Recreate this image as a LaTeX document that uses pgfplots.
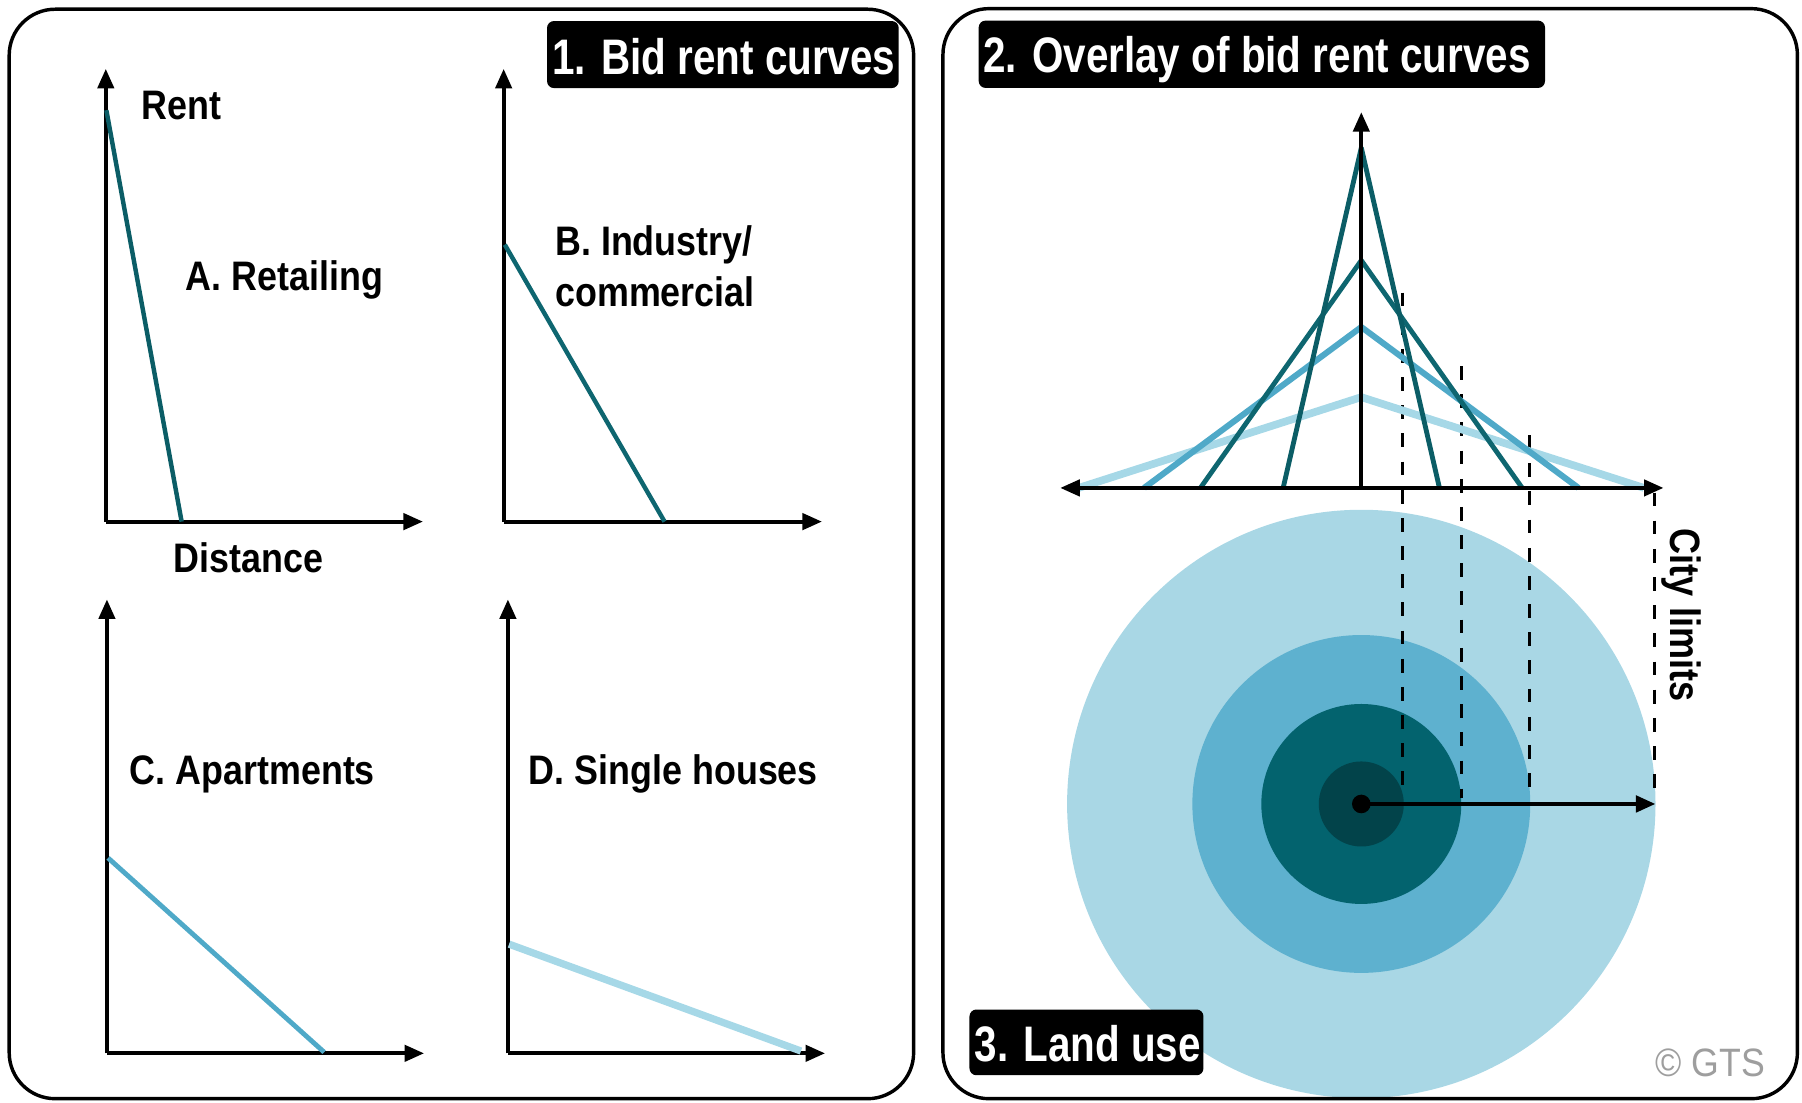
\documentclass[border=0pt]{standalone}
\usepackage{fontspec}
\setmainfont{Liberation Sans}
\newfontfamily\condfont[FakeStretch=0.87]{Liberation Sans}
\newfontfamily\cityfont[FakeStretch=0.85]{Liberation Sans}
\newfontfamily\titlefont[FakeStretch=0.81]{Liberation Sans}
\newfontfamily\gtsfont[FakeStretch=0.9]{Liberation Sans}
\usepackage{pgfplots}
\pgfplotsset{compat=1.18}
\usetikzlibrary{arrows.meta}
\definecolor{tealA}{HTML}{0B5D66}
\definecolor{tealB}{HTML}{0E6670}
\definecolor{blueC}{HTML}{4FA9C8}
\definecolor{blueD}{HTML}{A6D8E7}
\definecolor{ringOut}{HTML}{A9D7E5}
\definecolor{ringMid}{HTML}{5EB1CF}
\definecolor{ringIn}{HTML}{03636E}
\definecolor{ringCore}{HTML}{02434A}
\newcommand{\lab}{\condfont\bfseries\fontsize{10.2}{12}\selectfont}
\newcommand{\ttl}{\titlefont\bfseries\fontsize{12.35}{14}\selectfont\color{white}}
\pgfplotsset{
  panel/.style={anchor=south west, x=0.01cm, y=0.01cm, xmin=0, ymin=0,
    axis lines=left, xtick=\empty, ytick=\empty, clip=false,
    axis line style={line width=1pt, -{Triangle[length=0.17cm,width=0.14cm]}}},
}
\begin{document}
\begin{tikzpicture}[x=0.01cm,y=-0.01cm]
\useasboundingbox (0,0) rectangle (1568,959);

% ---------- Panel A ----------
\begin{axis}[panel, at={(0.92cm,-4.536cm)}, xmax=276, ymax=394]
\addplot[tealA, line width=1.1pt] coordinates {(0.5,358) (66,0)};
\end{axis}
% ---------- Panel B ----------
\begin{axis}[panel, at={(4.38cm,-4.536cm)}, xmax=277, ymax=394]
\addplot[tealB, line width=1.1pt] coordinates {(1,241) (140,0)};
\end{axis}
% ---------- Panel C ----------
\begin{axis}[panel, at={(0.93cm,-9.16cm)}, xmax=276, ymax=395]
\addplot[blueC, line width=1.2pt] coordinates {(1,170) (189,1)};
\end{axis}
% ---------- Panel D ----------
\begin{axis}[panel, at={(4.417cm,-9.16cm)}, xmax=276, ymax=395]
\addplot[blueD, line width=1.8pt] coordinates {(1,95) (255,2)};
\end{axis}

% labels left panel
\node[anchor=base west, inner sep=0] at (122.5,104) {\lab Rent};
\node[anchor=base west, inner sep=0] at (161,253) {\lab A. Retailing};
\node[anchor=base west, inner sep=0] at (150.6,498) {\lab Distance};
\node[anchor=base west, inner sep=0] at (482.5,222.5) {\lab B. Industry/};
\node[anchor=base west, inner sep=0] at (482.5,266.5) {\lab commercial};
\node[anchor=base west, inner sep=0] at (112.3,683) {\lab C. Apartments};
\node[anchor=base west, inner sep=0] at (459.5,683) {\lab D. Single houses};

% ---------- Overlay + land use ----------
\begin{axis}[at={(9.22cm,-9.55cm)}, anchor=south west, x=0.01cm, y=0.01cm,
  xmin=-262, xmax=263, ymin=-531, ymax=327, axis lines=none, clip=false]
% land-use rings
\fill[ringOut] (axis cs:0,-275) circle [radius=256];
\fill[ringMid] (axis cs:0,-275) circle [radius=147];
\fill[ringIn] (axis cs:0,-275) circle [radius=87];
\fill[ringCore] (axis cs:0,-275) circle [radius=37];
% dashed projection lines
\addplot[black, line width=0.75pt, dash pattern=on 0.12cm off 0.125cm] coordinates {(36,170) (36,-270)};
\addplot[black, line width=0.75pt, dash pattern=on 0.12cm off 0.125cm] coordinates {(87,106) (87,-270)};
\addplot[black, line width=0.75pt, dash pattern=on 0.12cm off 0.125cm] coordinates {(146,46) (146,-270)};
\addplot[black, line width=0.75pt, dash pattern=on 0.12cm off 0.125cm] coordinates {(255,-4) (255,-266)};
% bid rent curves overlay
\addplot[blueD, line width=1.9pt, line join=round] coordinates {(-246,0) (0,79) (246,0)};
\addplot[blueC, line width=1.5pt, line join=round] coordinates {(-189,0) (0,140) (189,0)};
\addplot[tealB, line width=1.2pt, line join=round] coordinates {(-140,0) (0,198) (140,0)};
\addplot[tealA, line width=1.2pt, line join=round] coordinates {(-68,0) (0,296) (68,0)};
% axes
\addplot[black, line width=1pt, {Triangle[length=0.17cm,width=0.14cm]}-{Triangle[length=0.17cm,width=0.14cm]}] coordinates {(-262,0) (263,0)};
\addplot[black, line width=1pt, -{Triangle[length=0.17cm,width=0.14cm]}] coordinates {(0,0) (0,327)};
% radius arrow and centre
\addplot[black, line width=1.1pt, -{Triangle[length=0.17cm,width=0.14cm]}] coordinates {(0,-275) (256,-275)};
\addplot[only marks, mark=*, mark size=2.1pt, black] coordinates {(0,-275)};
\end{axis}

\node[anchor=base west, inner sep=0, rotate=-90] at (1454,459.5) {\cityfont\bfseries\fontsize{10.5}{12}\selectfont City limits};
\node[anchor=base west, inner sep=0, text=black!38] at (1440,937) {\gtsfont\fontsize{9.8}{11}\selectfont \textcopyright{} GTS};

% title boxes
\fill[black, rounded corners=0.06cm] (476,18.3) rectangle (782,76.6);
\node[anchor=base west, inner sep=0] at (480,65) {\ttl 1. Bid rent curves};
\fill[black, rounded corners=0.06cm] (851.6,17.9) rectangle (1344.4,76.5);
\node[anchor=base west, inner sep=0] at (855,63.5) {\ttl 2. Overlay of bid rent curves};
\fill[black, rounded corners=0.06cm] (843.6,878.4) rectangle (1047.2,935.6);
\node[anchor=base west, inner sep=0] at (847.5,924) {\ttl 3. Land use};

% panel frames
\draw[line width=0.85pt, rounded corners=0.4cm] (8,8) rectangle (795,956);
\draw[line width=0.85pt, rounded corners=0.4cm] (820.5,7.5) rectangle (1564,956);
\end{tikzpicture}
\end{document}
